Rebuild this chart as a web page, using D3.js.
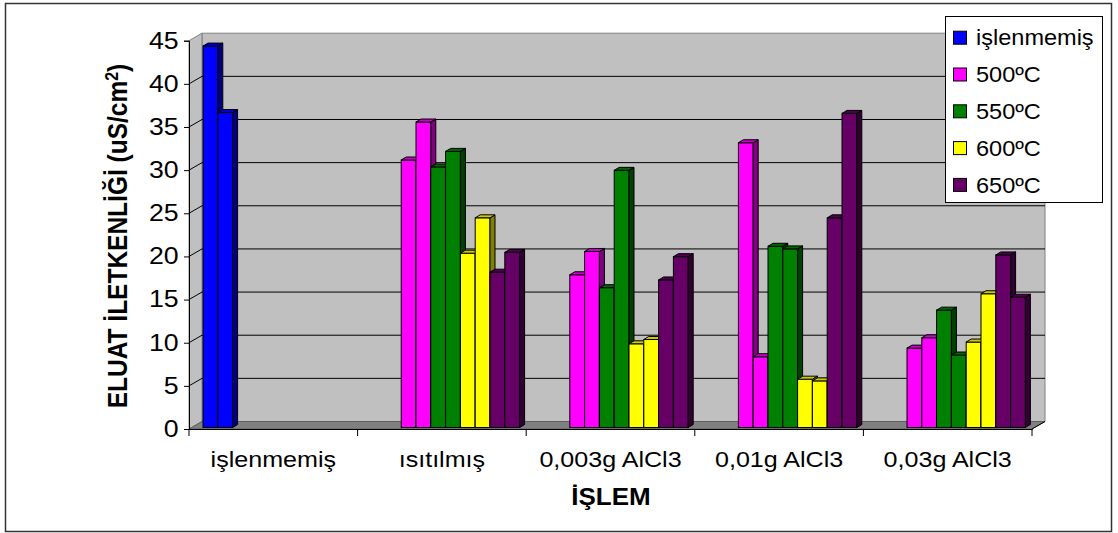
<!DOCTYPE html>
<html>
<head>
<meta charset="utf-8">
<script src="https://cdn.jsdelivr.net/npm/d3@7"></script>
<style>
  html, body { margin: 0; padding: 0; background: #fff; }
  svg text { font-family: "Liberation Sans", Arial, sans-serif; }
</style>
</head>
<body>
<svg id="chart" width="1118" height="533"></svg>
<script>
// Treatment groups along the x axis
const categories = ["işlenmemiş", "ısıtılmış", "0,003g AlCl3", "0,01g AlCl3", "0,03g AlCl3"];
// Legend entries
const seriesNames = ["işlenmemiş", "500ºC", "550ºC", "600ºC", "650ºC"];
const seriesColors = ["#0000FF", "#FF00FF", "#008000", "#FFFF00", "#660066"];
// Two replicate readings per group (uS/cm²); null = not measured
const untreatedVals = [[44.2, 36.5], null, null, null, null];
const t500Vals = [null, [31.0, 35.4], [17.7, 20.4], [33.0, 8.2], [9.2, 10.4]];
const t550Vals = [null, [30.2, 32.0], [16.2, 29.8], [21.0, 20.7], [13.6, 8.4]];
const t600Vals = [null, [20.2, 24.3], [9.7, 10.2], [5.6, 5.4], [9.9, 15.5]];
const t650Vals = [null, [18.0, 20.3], [17.1, 19.8], [24.3, 36.4], [20.0, 15.1]];
const yTicks = [0, 5, 10, 15, 20, 25, 30, 35, 40, 45];

const seriesVals = [untreatedVals, t500Vals, t550Vals, t600Vals, t650Vals];

const svg = d3.select("#chart");

// Outer frame
svg.append("rect").attr("x", 5.5).attr("y", 3.5).attr("width", 1106).attr("height", 528)
  .attr("fill", "#fff").attr("stroke", "#333").attr("stroke-width", 1.5);

// 3D geometry: front plane and wall offset
const depthX = 13, depthY = -7.5;
const x = d3.scaleBand().domain(categories).range([189, 1032]).padding(0);
const y = d3.scaleLinear().domain([0, 45]).range([429, 40.7]);
const slot = d3.scaleBand().domain(d3.range(10)).range([14, 162]).padding(0);

const x0 = x.range()[0], x1 = x.range()[1];
const yBase = y(0), yTop = y(45);

// Back wall
svg.append("polygon")
  .attr("points", [[x0 + depthX, yTop + depthY], [x1 + depthX, yTop + depthY], [x1 + depthX, yBase + depthY], [x0 + depthX, yBase + depthY]].join(" "))
  .attr("fill", "#C0C0C0").attr("stroke", "#808080").attr("stroke-width", 1);
// Side wall
svg.append("polygon")
  .attr("points", [[x0, yTop], [x0 + depthX, yTop + depthY], [x0 + depthX, yBase + depthY], [x0, yBase]].join(" "))
  .attr("fill", "#C0C0C0").attr("stroke", "#808080").attr("stroke-width", 1);
// Floor
svg.append("polygon")
  .attr("points", [[x0, yBase], [x0 + depthX, yBase + depthY], [x1 + depthX, yBase + depthY], [x1, yBase]].join(" "))
  .attr("fill", "#808080").attr("stroke", "#606060").attr("stroke-width", 1);

// Gridlines on back wall and side wall
yTicks.filter(t => t > 0 && t < 45).forEach(t => {
  const yy = y(t);
  svg.append("line").attr("x1", x0 + depthX).attr("x2", x1 + depthX)
    .attr("y1", yy + depthY).attr("y2", yy + depthY)
    .attr("stroke", "#000").attr("stroke-width", 1);
  svg.append("line").attr("x1", x0).attr("x2", x0 + depthX)
    .attr("y1", yy).attr("y2", yy + depthY)
    .attr("stroke", "#000").attr("stroke-width", 1);
});

// Y axis (front plane)
const yAxis = d3.axisLeft(y).tickValues(yTicks).tickSize(5).tickPadding(4);
const gy = svg.append("g").attr("transform", `translate(${x0},0)`).call(yAxis);
gy.select(".domain").attr("stroke", "#000");
gy.selectAll(".tick line").attr("stroke", "#000");
gy.selectAll(".tick text").attr("font-size", 23).attr("fill", "#000")
  .attr("font-family", "Liberation Sans, Arial, sans-serif")
  .attr("transform", "scale(1.16,1)");

// X axis (front plane)
const xAxis = d3.axisBottom(x).tickSize(0).tickPadding(22);
const gx = svg.append("g").attr("transform", `translate(0,${yBase})`).call(xAxis);
gx.select(".domain").attr("stroke", "#000");
gx.selectAll(".tick text").attr("font-size", 22).attr("fill", "#000")
  .attr("font-family", "Liberation Sans, Arial, sans-serif")
  .attr("transform", "scale(1.14,1)");
// Category divider ticks
const boundaries = categories.map(c => x(c)).concat([x1]);
svg.append("g").selectAll("line").data(boundaries).join("line")
  .attr("x1", d => d).attr("x2", d => d).attr("y1", yBase).attr("y2", yBase + 7)
  .attr("stroke", "#000");
// Right edge of floor to back wall
svg.append("line").attr("x1", x1).attr("y1", yBase).attr("x2", x1 + depthX).attr("y2", yBase + depthY)
  .attr("stroke", "#000");

// Bars (front face, top, side)
const barDepthX = 5, barDepthY = -3;
const barBaseShift = -1.5;
const bars = [];
seriesVals.forEach((vals, s) => {
  vals.forEach((pair, ci) => {
    if (!pair) return;
    pair.forEach((v, r) => {
      bars.push({ s, ci, r, v, slotIndex: s * 2 + r });
    });
  });
});
bars.sort((a, b) => (a.ci - b.ci) || (a.slotIndex - b.slotIndex));

const gBars = svg.append("g");
bars.forEach(b => {
  const bx = x(categories[b.ci]) + slot(b.slotIndex);
  const bw = slot.bandwidth();
  const yb = y(0) + barBaseShift;
  const yt = y(b.v) + barBaseShift;
  const col = d3.color(seriesColors[b.s]);
  const topCol = col.darker(0.63);
  const sideCol = col.darker(1.94);
  const g = gBars.append("g");
  g.append("rect").attr("x", bx).attr("y", yt).attr("width", bw).attr("height", yb - yt)
    .attr("fill", col).attr("stroke", "#000").attr("stroke-width", 1);
  g.append("polygon")
    .attr("points", [[bx + bw, yt], [bx + bw + barDepthX, yt + barDepthY], [bx + bw + barDepthX, yb + barDepthY], [bx + bw, yb]].join(" "))
    .attr("fill", sideCol).attr("stroke", "#000").attr("stroke-width", 1);
  g.append("polygon")
    .attr("points", [[bx, yt], [bx + barDepthX, yt + barDepthY], [bx + bw + barDepthX, yt + barDepthY], [bx + bw, yt]].join(" "))
    .attr("fill", topCol).attr("stroke", "#000").attr("stroke-width", 1);
});

// Axis titles
svg.append("text").attr("transform", "translate(611,505) scale(1.13,1)").attr("text-anchor", "middle")
  .attr("font-size", 23).attr("font-weight", "bold").text("İŞLEM");

const yt = svg.append("text").attr("transform", "translate(127,236) rotate(-90) scale(1.0,1.12)")
  .attr("text-anchor", "middle").attr("font-size", 24.5).attr("font-weight", "bold");
yt.append("tspan").text("ELUAT İLETKENLİĞİ (uS/cm");
yt.append("tspan").attr("baseline-shift", "super").attr("font-size", 16).text("2");
yt.append("tspan").text(")");

// Legend
const lg = svg.append("g");
lg.append("rect").attr("x", 945.5).attr("y", 16.5).attr("width", 157).attr("height", 186)
  .attr("fill", "#fff").attr("stroke", "#000").attr("stroke-width", 1);
seriesNames.forEach((name, i) => {
  const cy = 37.7 + i * 36.8;
  lg.append("rect").attr("x", 953.5).attr("y", cy - 6.5).attr("width", 13).attr("height", 13)
    .attr("fill", seriesColors[i]).attr("stroke", "#000").attr("stroke-width", 1);
  lg.append("text").attr("transform", `translate(976,${cy}) scale(1.07,1)`).attr("dy", "0.35em")
    .attr("font-size", 22).text(name);
});
</script>
</body>
</html>
